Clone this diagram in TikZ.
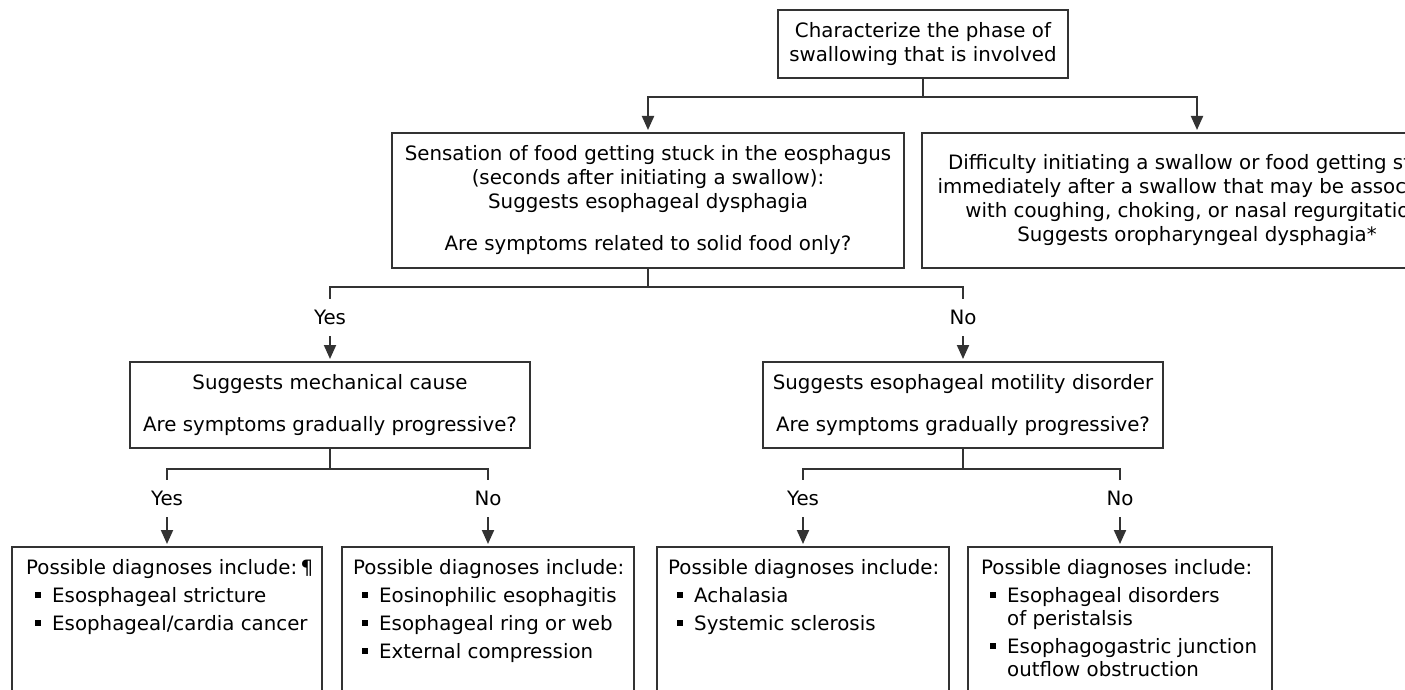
\documentclass[tikz,border=0pt]{standalone}
\usepackage{fontspec}
\setmainfont{DejaVu Sans}
\usetikzlibrary{arrows.meta}
\newcommand\dxitem[1]{\makebox[26pt][l]{\hspace*{9pt}\rule[4pt]{6pt}{6.5pt}}#1}
\newcommand\dxcont{\hspace*{26pt}}
\begin{document}
\begin{tikzpicture}[x=1pt,y=-1pt,
  box/.style={draw=black!80, line width=2pt, inner sep=0pt, align=center,
     font=\fontsize{19.8}{24}\selectfont},
  dbox/.style={draw=black!80, line width=2pt, inner sep=0pt, anchor=north, minimum height=200pt},
  dtext/.style={inner sep=0pt, anchor=north west, align=left,
     font=\fontsize{19.8}{23}\selectfont},
  lab/.style={inner sep=0pt, minimum height=37pt, font=\fontsize{19.8}{24}\selectfont},
  conn/.style={draw=black!80, line width=2pt},
  arr/.style={conn, -{Triangle[length=14pt,width=12pt]}, shorten >=2pt}
]
\useasboundingbox (0,0) rectangle (1405,690);
\clip (0,0) rectangle (1405,690);

% top
\node[box, minimum width=290pt, minimum height=68pt] (top) at (923,44)
  {Characterize the phase of\\swallowing that is involved};

% second row
\node[box, minimum width=512pt, minimum height=135pt] (sens) at (648,200.5)
  {Sensation of food getting stuck in the eosphagus\\(seconds after initiating a swallow):\\Suggests esophageal dysphagia\\[18pt]Are symptoms related to solid food only?};
\node[box, minimum width=550pt, minimum height=135pt] (oro) at (1197,200.5)
  {Difficulty initiating a swallow or food getting stuck\\immediately after a swallow that may be associated\\with coughing, choking, or nasal regurgitation:\\Suggests oropharyngeal dysphagia*};

% third row
\node[box, minimum width=400pt, minimum height=86pt] (mech) at (330,405)
  {Suggests mechanical cause\\[18pt]Are symptoms gradually progressive?};
\node[box, minimum width=400pt, minimum height=86pt] (mot) at (963,405)
  {Suggests esophageal motility disorder\\[18pt]Are symptoms gradually progressive?};

% bottom boxes
\node[dbox, minimum width=310pt] (d1) at (167,546) {};
\node[dbox, minimum width=292pt] (d2) at (488,546) {};
\node[dbox, minimum width=292pt] (d3) at (803,546) {};
\node[dbox, minimum width=304pt] (d4) at (1120,546) {};

\node[dtext] (d1t) at ([shift={(15,13)}]d1.north west)
  {Possible diagnoses include:\,¶\\[5pt]
   \dxitem{Esosphageal stricture}\\[5pt]
   \dxitem{Esophageal/cardia cancer}};
\node[dtext] (d2t) at ([shift={(12,13)}]d2.north west)
  {Possible diagnoses include:\\[5pt]
   \dxitem{Eosinophilic esophagitis}\\[5pt]
   \dxitem{Esophageal ring or web}\\[5pt]
   \dxitem{External compression}};
\node[dtext] (d3t) at ([shift={(12,13)}]d3.north west)
  {Possible diagnoses include:\\[5pt]
   \dxitem{Achalasia}\\[5pt]
   \dxitem{Systemic sclerosis}};
\node[dtext] (d4t) at ([shift={(14,13)}]d4.north west)
  {Possible diagnoses include:\\[5pt]
   \dxitem{Esophageal disorders}\\
   \dxcont of peristalsis\\[5pt]
   \dxitem{Esophagogastric junction}\\
   \dxcont outflow obstruction};

% labels
\node[lab] (yes1) at (330,317.5) {Yes};
\node[lab] (no1)  at (963,317.5) {No};
\node[lab] (yes2) at (167,498.5) {Yes};
\node[lab] (no2)  at (488,498.5) {No};
\node[lab] (yes3) at (803,498.5) {Yes};
\node[lab] (no3)  at (1120,498.5) {No};

% connectors
\coordinate (b1) at (923,97);
\draw[conn] (top.south) -- (b1);
\draw[arr] (b1) -| (sens.north);
\draw[arr] (b1) -| (oro.north);

\coordinate (b2) at (648,287);
\draw[conn] (sens.south) -- (b2);
\draw[conn] (b2) -| (yes1.north);
\draw[conn] (b2) -| (no1.north);
\draw[arr] (yes1.south) -- (mech.north);
\draw[arr] (no1.south) -- (mot.north);

\coordinate (b3) at (330,469);
\draw[conn] (mech.south) -- (b3);
\draw[conn] (b3) -| (yes2.north);
\draw[conn] (b3) -| (no2.north);
\draw[arr] (yes2.south) -- (d1.north);
\draw[arr] (no2.south) -- (d2.north);

\coordinate (b4) at (963,469);
\draw[conn] (mot.south) -- (b4);
\draw[conn] (b4) -| (yes3.north);
\draw[conn] (b4) -| (no3.north);
\draw[arr] (yes3.south) -- (d3.north);
\draw[arr] (no3.south) -- (d4.north);
\end{tikzpicture}
\end{document}
